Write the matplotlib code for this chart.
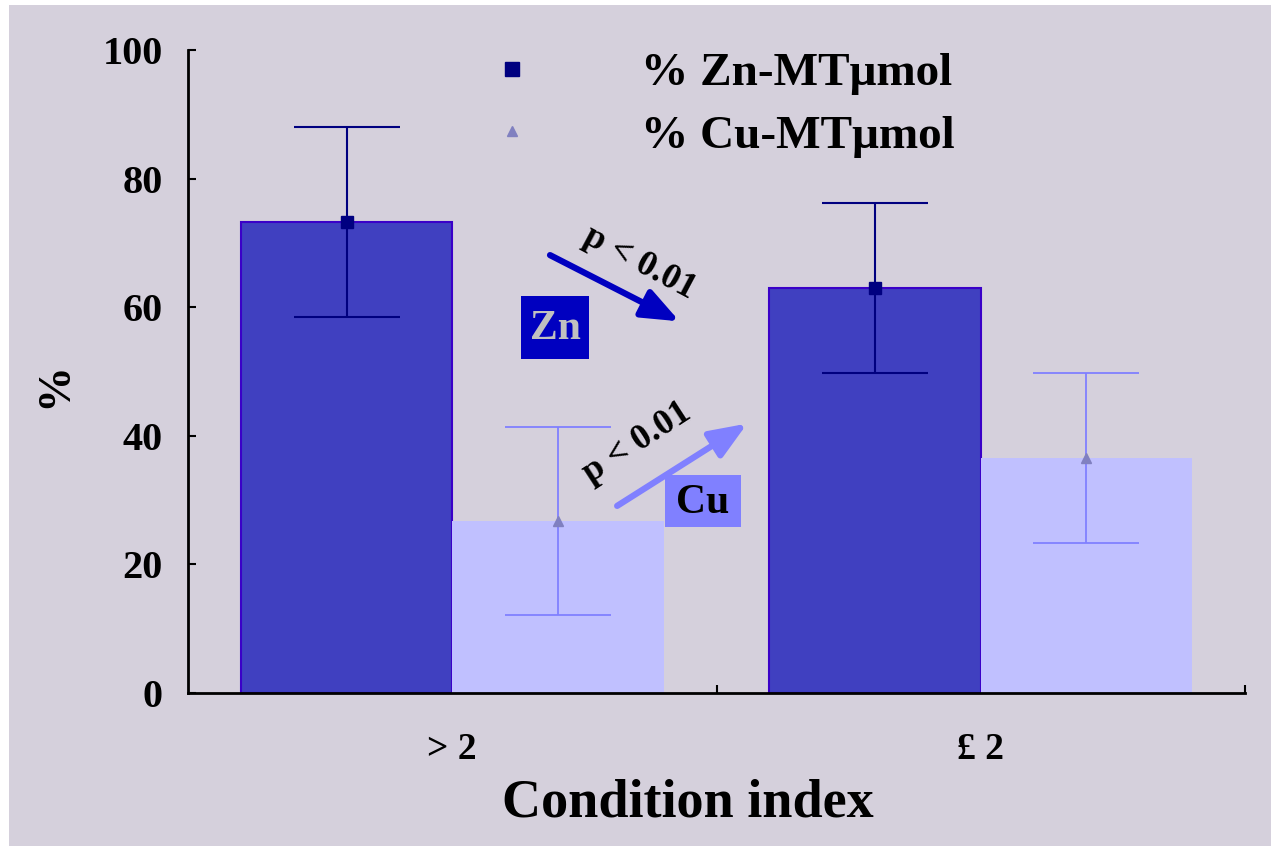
import matplotlib
matplotlib.use("Agg")
import matplotlib.pyplot as plt
from matplotlib.lines import Line2D
from matplotlib.patches import Rectangle, FancyArrowPatch

# Data
categories = ["> 2", "£ 2"]
zn_mean = [73.3, 63.0]
zn_err = [14.8, 13.2]
cu_mean = [26.7, 36.6]
cu_err = [14.6, 13.2]
series_labels = ["% Zn-MT\u03bcmol", "% Cu-MT\u03bcmol"]
p_label = "p < 0.01"

BG = "#D5D0DC"
ZN_FILL = "#4040C0"
ZN_EDGE = "#3A00C8"
ZN_DARK = "#000080"
CU_FILL = "#C0C0FF"
CU_LINE = "#8080FF"
CU_MARK = "#8080C0"

plt.rcParams["font.family"] = ["Liberation Serif", "DejaVu Serif"]
plt.rcParams["font.weight"] = "bold"

W, H = 1271, 846
fig = plt.figure(figsize=(W / 100, H / 100), dpi=100, facecolor="white")
fig.patches.append(Rectangle((9 / W, 0), 1 - 9 / W, 1 - 5 / H, transform=fig.transFigure,
                             facecolor=BG, edgecolor="none", zorder=-10))

ax = fig.add_axes([188 / W, 1 - 693 / H, (1245 - 188) / W, (693 - 50) / H])
ax.set_facecolor("none")

x = list(range(len(categories)))
bw = 0.4
xz = [i - bw / 2 for i in x]
xc = [i + bw / 2 for i in x]

ax.bar(xz, zn_mean, width=bw, color=ZN_FILL, edgecolor=ZN_EDGE, linewidth=1.5, zorder=2)
ax.bar(xc, cu_mean, width=bw, color=CU_FILL, edgecolor="none", zorder=2)

ax.errorbar(xz, zn_mean, yerr=zn_err, fmt="s", color=ZN_DARK, ms=8, elinewidth=1.5,
            capsize=38, capthick=1.5, zorder=3)
ax.errorbar(xc, cu_mean, yerr=cu_err, fmt="^", color=CU_LINE, mfc=CU_MARK, mec=CU_MARK,
            ms=7, elinewidth=1.3, capsize=38, capthick=1.3, zorder=3)

ax.set_xlim(-0.5, 1.5)
ax.set_ylim(0, 100)
ax.set_yticks([0, 20, 40, 60, 80, 100])
ax.tick_params(axis="y", direction="in", length=6, width=1.5, labelsize=29, pad=18)
ax.set_xticks(x)
ax.set_xticklabels(categories)
ax.tick_params(axis="x", length=0, labelsize=27, pad=28)
ax.set_xticks([0.5, 1.5], minor=True)
ax.tick_params(axis="x", which="minor", direction="in", length=6, width=1.5)
for lab in ax.get_xticklabels() + ax.get_yticklabels():
    lab.set_fontweight("bold")

for s in ["top", "right"]:
    ax.spines[s].set_visible(False)
for s in ["left", "bottom"]:
    ax.spines[s].set_linewidth(2)

fig.text(55 / W, 1 - 385 / H, "%", rotation=90, fontsize=33, fontweight="bold",
         ha="center", va="center")
fig.text(688 / W, 1 - 803 / H, "Condition index", fontsize=39, fontweight="bold",
         ha="center", va="center")

# Legend (markers only)
handles = [
    Line2D([], [], marker="s", linestyle="none", color=ZN_DARK, ms=10),
    Line2D([], [], marker="^", linestyle="none", color=CU_MARK, ms=7),
]
ax.legend(handles, series_labels, loc="center left", frameon=False,
          bbox_to_anchor=(488 / W, 1 - 105 / H), bbox_transform=fig.transFigure,
          prop={"size": 34, "weight": "bold"}, handlelength=1.0, handletextpad=2.25,
          labelspacing=0.42, borderpad=0, borderaxespad=0)

arrow_style = "-|>,head_length=1.5,head_width=0.6"

# Zn decrease annotation
ax.add_patch(FancyArrowPatch((0.185, 68.1), (0.430, 57.8), arrowstyle=arrow_style,
                             mutation_scale=15, color="#0000C0", linewidth=4.5,
                             capstyle="round", shrinkA=0, shrinkB=0, zorder=4))
ax.text(0.355, 66.9, p_label, rotation=-28, fontsize=26, fontweight="bold",
        ha="center", va="center", rotation_mode="anchor", zorder=4)
ax.add_patch(Rectangle((0.130, 51.9), 0.129, 9.8, facecolor="#0000C0", edgecolor="none", zorder=4))
ax.text(0.1945, 56.6, "Zn", color="#C0C0C0", fontsize=30, fontweight="bold",
        ha="center", va="center", zorder=5)

# Cu increase annotation
ax.add_patch(FancyArrowPatch((0.312, 29.1), (0.558, 41.9), arrowstyle=arrow_style,
                             mutation_scale=15, color=CU_LINE, linewidth=4.5,
                             capstyle="round", shrinkA=0, shrinkB=0, zorder=4))
ax.text(0.350, 38.9, p_label, rotation=33, fontsize=26, fontweight="bold",
        ha="center", va="center", rotation_mode="anchor", zorder=4)
ax.add_patch(Rectangle((0.4025, 25.8), 0.1435, 8.1, facecolor=CU_LINE, edgecolor="none", zorder=4))
ax.text(0.474, 29.6, "Cu", color="black", fontsize=30, fontweight="bold",
        ha="center", va="center", zorder=5)

fig.savefig("out.png", dpi=100, facecolor=fig.get_facecolor())
